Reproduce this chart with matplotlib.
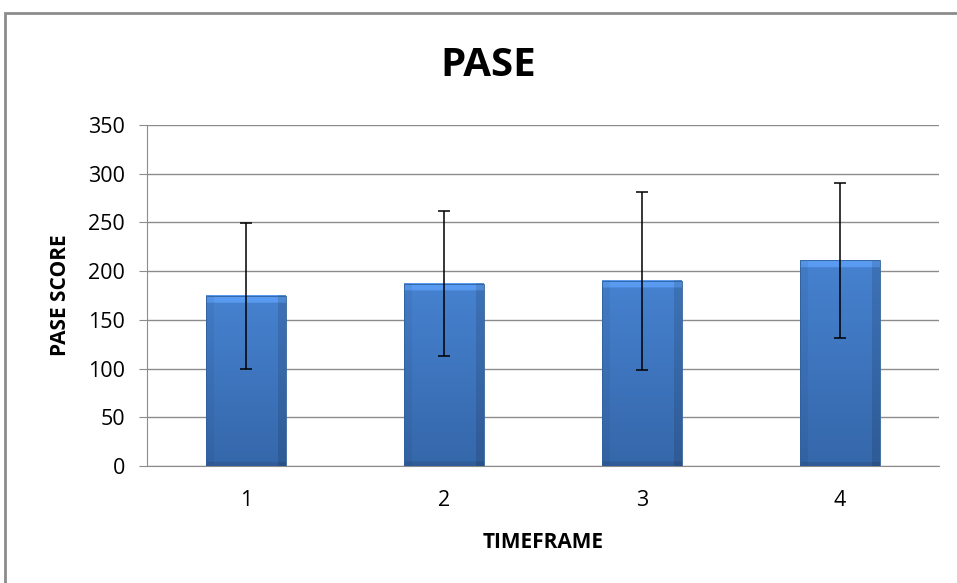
import numpy as np
import matplotlib
matplotlib.use("Agg")
import matplotlib.pyplot as plt
from matplotlib.patches import Rectangle

categories = ["1", "2", "3", "4"]
means = [174.5, 187, 190, 211]
errors = [74.5, 74.5, 91.5, 79.5]
yticks = [0, 50, 100, 150, 200, 250, 300, 350]

plt.rcParams['font.family'] = ['Open Sans', 'DejaVu Sans']

fig = plt.figure(figsize=(9.57, 5.83), dpi=100)
# outer chart frame
fig.add_artist(Rectangle((5/957, -0.1), 1.2, (583-13)/583 + 0.1, transform=fig.transFigure,
                         fill=False, edgecolor='#8c8c8c', linewidth=2))

ax = fig.add_axes([147/957, (583-466)/583, 792/957, 341/583])
x = np.arange(len(categories))
width = 0.4

ax.set_xlim(-0.5, len(categories) - 0.5)
ax.set_ylim(0, 350)
ax.set_yticks(yticks)
ax.set_yticklabels([str(t) for t in yticks], fontsize=15.5)
ax.set_xticks(x)
ax.set_xticklabels(categories, fontsize=15.5)
ax.yaxis.grid(True, color='#8c8c8c', linewidth=1)
ax.set_axisbelow(True)
for s in ['top', 'right']:
    ax.spines[s].set_visible(False)
for s in ['left', 'bottom']:
    ax.spines[s].set_color('#8c8c8c')
ax.tick_params(axis='y', length=6, color='#8c8c8c', pad=10)
ax.tick_params(axis='x', length=0, pad=17)

# gradient/bevel image for bars
ny, nx = 200, 80
yy = np.linspace(0, 1, ny)[:, None]   # 0 top -> 1 bottom
top = np.array([0x46, 0x82, 0xD0]) / 255
bot = np.array([0x35, 0x67, 0xAA]) / 255
img = top[None, None, :] * (1 - yy[..., None]) + bot[None, None, :] * yy[..., None]
img = np.broadcast_to(img, (ny, nx, 3)).copy()

for i, (m, e) in enumerate(zip(means, errors)):
    x0, x1 = i - width / 2, i + width / 2
    # shadow
    ax.add_patch(Rectangle((x0 + 0.006, 0), width, m - 1.5, facecolor='#b8b8b8',
                           edgecolor='none', alpha=0.5, zorder=2))
    im = img.copy()
    h_px = m * 0.974
    top_frac = min(8 / h_px, 0.3)
    ytop = int(top_frac * ny)
    side = int(8 / 79 * nx)
    im[:ytop, :, :] = np.clip(im[:ytop, :, :] * 1.1 + 0.05, 0, 1)
    im[:, :side, :] *= 0.95
    im[:, -side:, :] *= 0.88
    im[-max(int(5 / h_px * ny), 1):, :, :] *= 0.9
    ax.imshow(im, extent=(x0, x1, 0, m), aspect='auto', zorder=3, interpolation='bilinear')
    ax.add_patch(Rectangle((x0, 0), width, m, fill=False, edgecolor='#30609c',
                           linewidth=0.6, zorder=4))

ax.errorbar(x, means, yerr=errors, fmt='none', ecolor='black', elinewidth=1.1,
            capsize=4.6, capthick=1.1, zorder=5)
ax.set_xlim(-0.5, len(categories) - 0.5)
ax.set_ylim(0, 350)

ax.set_ylabel("PASE SCORE", fontsize=15, fontweight='bold')
ax.yaxis.label.set_va('center')
ax.yaxis.set_label_coords((61 - 147) / 792, 0.5)
ax.set_xlabel("TIMEFRAME", fontsize=15, fontweight='bold')
ax.xaxis.label.set_va('center')
ax.xaxis.set_label_coords((543 - 147) / 792, (466 - 543) / 341)
fig.text(488.5 / 957, 1 - 65/583, "PASE", ha='center', va='center', fontsize=29, fontweight='bold')

fig.savefig("out.png", dpi=100)
